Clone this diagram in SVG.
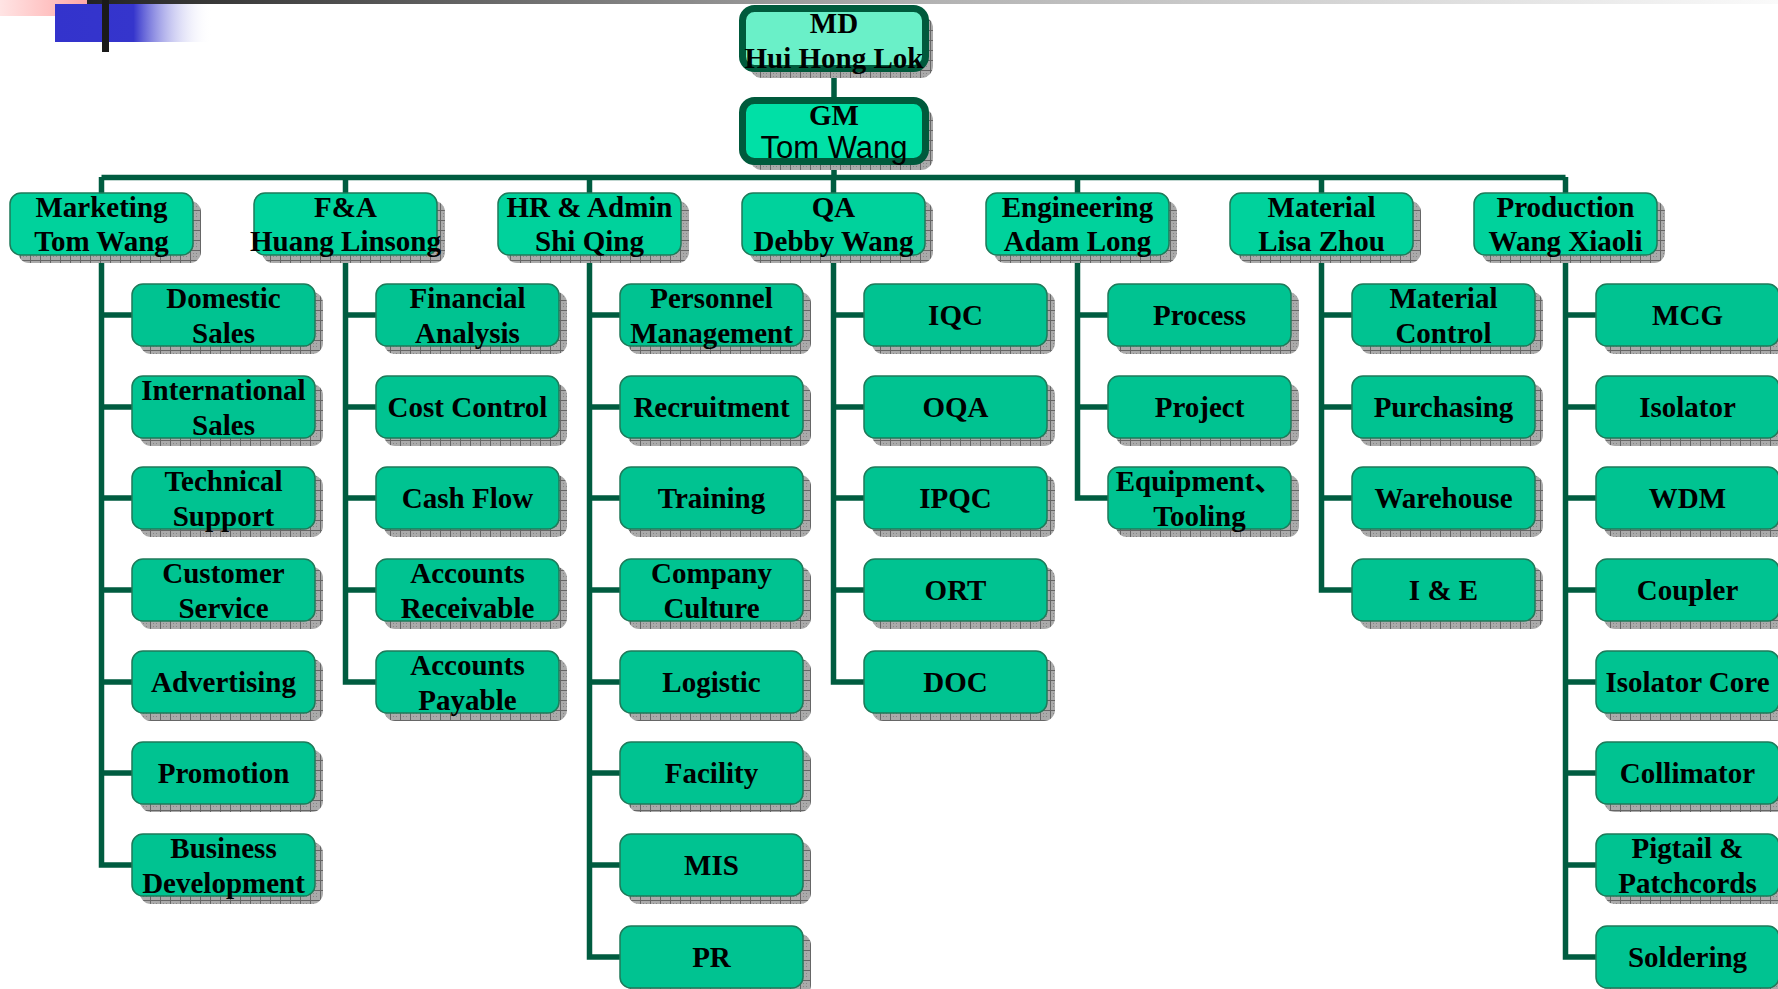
<svg xmlns="http://www.w3.org/2000/svg" width="1778" height="989" viewBox="0 0 1778 989">
<defs>
<linearGradient id="topbar" x1="0" y1="0" x2="1" y2="0">
<stop offset="0" stop-color="#1a1a1a"/>
<stop offset="0.5" stop-color="#b0b0b0"/>
<stop offset="1" stop-color="#fafafa"/>
</linearGradient>
<linearGradient id="pink" x1="0" y1="0" x2="1" y2="0">
<stop offset="0" stop-color="#ffe4e4"/>
<stop offset="1" stop-color="#ffa8a8"/>
</linearGradient>
<linearGradient id="blue" x1="55" y1="0" x2="212" y2="0" gradientUnits="userSpaceOnUse">
<stop offset="0" stop-color="#3333cc"/>
<stop offset="0.5" stop-color="#3535cc"/>
<stop offset="1" stop-color="#ffffff" stop-opacity="0"/>
</linearGradient>
<pattern id="hatch" width="10" height="10" patternUnits="userSpaceOnUse">
<rect width="10" height="10" fill="#aaaaaa"/>
<path d="M0 0.5H10M0.5 0V10" stroke="#666666" stroke-width="1"/>
<path d="M3 3h1v1h-1zM6 6h1v1h-1zM3 6h1v1h-1zM6 3h1v1h-1z" fill="#858585"/>
</pattern>
</defs>
<style>
.sh{fill:url(#hatch)}
.top{fill:#6af0c8;stroke:#005a3c;stroke-width:7}
.gm{fill:#00e0a6;stroke:#005a3c;stroke-width:7}
.dept{fill:#00d29c;stroke:#1f7a5a;stroke-width:1.5}
.child{fill:#00c391;stroke:#1f7a5a;stroke-width:1.5}
text{font-family:"Liberation Serif","Times New Roman","Noto Sans CJK SC",serif;font-weight:bold;font-size:29px;fill:#000;text-anchor:middle}
text.sans{font-family:"Liberation Sans",Arial,sans-serif;font-weight:normal;font-size:31px}
.ln{stroke:#005c40;stroke-width:5.5;fill:none}
</style>
<g id="decor">
<rect x="34" y="0" width="1744" height="4" fill="url(#topbar)"/>
<rect x="0" y="0" width="87" height="16" fill="url(#pink)"/>
<rect x="55" y="4" width="157" height="38" fill="url(#blue)"/>
<rect x="102" y="0" width="7" height="52" fill="#1a1a1a"/>
</g>
<g id="connectors" class="ln">
<path d="M834 72V97M834 165V178M101.5 177.5H1565.5"/>
<path d="M101.5 177V193M345.5 177V193M589.5 177V193M833.5 177V193M1077.5 177V193M1321.5 177V193M1565.5 177V193"/>
<path d="M101.5 255V865H132M101.5 315H132M101.5 407H132M101.5 498H132M101.5 590H132M101.5 682H132M101.5 773H132"/>
<path d="M345.5 255V682H376M345.5 315H376M345.5 407H376M345.5 498H376M345.5 590H376"/>
<path d="M589.5 255V957H620M589.5 315H620M589.5 407H620M589.5 498H620M589.5 590H620M589.5 682H620M589.5 773H620M589.5 865H620"/>
<path d="M833.5 255V682H864M833.5 315H864M833.5 407H864M833.5 498H864M833.5 590H864"/>
<path d="M1077.5 255V498H1108M1077.5 315H1108M1077.5 407H1108"/>
<path d="M1321.5 255V590H1352M1321.5 315H1352M1321.5 407H1352M1321.5 498H1352"/>
<path d="M1565.5 255V957H1596M1565.5 315H1596M1565.5 407H1596M1565.5 498H1596M1565.5 590H1596M1565.5 682H1596M1565.5 773H1596M1565.5 865H1596"/>
</g>
<g id="md"><rect class="sh" x="750" y="16" width="183" height="62" rx="12"/><rect class="top" x="742.5" y="8.5" width="183" height="60" rx="12"/><text x="834" y="33">MD</text><text x="834" y="68">Hui Hong Lok</text></g>
<g id="gm"><rect class="sh" x="750" y="108" width="183" height="62" rx="12"/><rect class="gm" x="742.5" y="100.5" width="183" height="61" rx="12"/><text x="834" y="125">GM</text><text class="sans" x="834" y="158">Tom Wang</text></g>
<g id="d-marketing"><rect class="sh" x="18" y="201" width="183" height="62" rx="11"/><rect class="dept" x="10" y="193" width="183" height="62" rx="11"/><text x="101.5" y="217">Marketing</text><text x="101.5" y="251">Tom Wang</text></g>
<g id="d-fa"><rect class="sh" x="262" y="201" width="183" height="62" rx="11"/><rect class="dept" x="254" y="193" width="183" height="62" rx="11"/><text x="345.5" y="217">F&amp;A</text><text x="345.5" y="251">Huang Linsong</text></g>
<g id="d-hr"><rect class="sh" x="506" y="201" width="183" height="62" rx="11"/><rect class="dept" x="498" y="193" width="183" height="62" rx="11"/><text x="589.5" y="217">HR &amp; Admin</text><text x="589.5" y="251">Shi Qing</text></g>
<g id="d-qa"><rect class="sh" x="750" y="201" width="183" height="62" rx="11"/><rect class="dept" x="742" y="193" width="183" height="62" rx="11"/><text x="833.5" y="217">QA</text><text x="833.5" y="251">Debby Wang</text></g>
<g id="d-eng"><rect class="sh" x="994" y="201" width="183" height="62" rx="11"/><rect class="dept" x="986" y="193" width="183" height="62" rx="11"/><text x="1077.5" y="217">Engineering</text><text x="1077.5" y="251">Adam Long</text></g>
<g id="d-mat"><rect class="sh" x="1238" y="201" width="183" height="62" rx="11"/><rect class="dept" x="1230" y="193" width="183" height="62" rx="11"/><text x="1321.5" y="217">Material</text><text x="1321.5" y="251">Lisa Zhou</text></g>
<g id="d-prod"><rect class="sh" x="1482" y="201" width="183" height="62" rx="11"/><rect class="dept" x="1474" y="193" width="183" height="62" rx="11"/><text x="1565.5" y="217">Production</text><text x="1565.5" y="251">Wang Xiaoli</text></g>

<g id="c-domestic"><rect class="sh" x="140" y="292" width="183" height="62" rx="11"/><rect class="child" x="132" y="284" width="183" height="62" rx="11"/><text x="223.5" y="308">Domestic</text><text x="223.5" y="343">Sales</text></g>
<g id="c-intl"><rect class="sh" x="140" y="384" width="183" height="62" rx="11"/><rect class="child" x="132" y="376" width="183" height="62" rx="11"/><text x="223.5" y="400">International</text><text x="223.5" y="435">Sales</text></g>
<g id="c-tech"><rect class="sh" x="140" y="475" width="183" height="62" rx="11"/><rect class="child" x="132" y="467" width="183" height="62" rx="11"/><text x="223.5" y="491">Technical</text><text x="223.5" y="526">Support</text></g>
<g id="c-cust"><rect class="sh" x="140" y="567" width="183" height="62" rx="11"/><rect class="child" x="132" y="559" width="183" height="62" rx="11"/><text x="223.5" y="583">Customer</text><text x="223.5" y="618">Service</text></g>
<g id="c-adv"><rect class="sh" x="140" y="659" width="183" height="62" rx="11"/><rect class="child" x="132" y="651" width="183" height="62" rx="11"/><text x="223.5" y="692">Advertising</text></g>
<g id="c-promo"><rect class="sh" x="140" y="750" width="183" height="62" rx="11"/><rect class="child" x="132" y="742" width="183" height="62" rx="11"/><text x="223.5" y="783">Promotion</text></g>
<g id="c-bizdev"><rect class="sh" x="140" y="842" width="183" height="62" rx="11"/><rect class="child" x="132" y="834" width="183" height="62" rx="11"/><text x="223.5" y="858">Business</text><text x="223.5" y="893">Development</text></g>

<g id="c-fin"><rect class="sh" x="384" y="292" width="183" height="62" rx="11"/><rect class="child" x="376" y="284" width="183" height="62" rx="11"/><text x="467.5" y="308">Financial</text><text x="467.5" y="343">Analysis</text></g>
<g id="c-cost"><rect class="sh" x="384" y="384" width="183" height="62" rx="11"/><rect class="child" x="376" y="376" width="183" height="62" rx="11"/><text x="467.5" y="417">Cost Control</text></g>
<g id="c-cash"><rect class="sh" x="384" y="475" width="183" height="62" rx="11"/><rect class="child" x="376" y="467" width="183" height="62" rx="11"/><text x="467.5" y="508">Cash Flow</text></g>
<g id="c-ar"><rect class="sh" x="384" y="567" width="183" height="62" rx="11"/><rect class="child" x="376" y="559" width="183" height="62" rx="11"/><text x="467.5" y="583">Accounts</text><text x="467.5" y="618">Receivable</text></g>
<g id="c-ap"><rect class="sh" x="384" y="659" width="183" height="62" rx="11"/><rect class="child" x="376" y="651" width="183" height="62" rx="11"/><text x="467.5" y="675">Accounts</text><text x="467.5" y="710">Payable</text></g>

<g id="c-pers"><rect class="sh" x="628" y="292" width="183" height="62" rx="11"/><rect class="child" x="620" y="284" width="183" height="62" rx="11"/><text x="711.5" y="308">Personnel</text><text x="711.5" y="343">Management</text></g>
<g id="c-recr"><rect class="sh" x="628" y="384" width="183" height="62" rx="11"/><rect class="child" x="620" y="376" width="183" height="62" rx="11"/><text x="711.5" y="417">Recruitment</text></g>
<g id="c-train"><rect class="sh" x="628" y="475" width="183" height="62" rx="11"/><rect class="child" x="620" y="467" width="183" height="62" rx="11"/><text x="711.5" y="508">Training</text></g>
<g id="c-culture"><rect class="sh" x="628" y="567" width="183" height="62" rx="11"/><rect class="child" x="620" y="559" width="183" height="62" rx="11"/><text x="711.5" y="583">Company</text><text x="711.5" y="618">Culture</text></g>
<g id="c-logistic"><rect class="sh" x="628" y="659" width="183" height="62" rx="11"/><rect class="child" x="620" y="651" width="183" height="62" rx="11"/><text x="711.5" y="692">Logistic</text></g>
<g id="c-facility"><rect class="sh" x="628" y="750" width="183" height="62" rx="11"/><rect class="child" x="620" y="742" width="183" height="62" rx="11"/><text x="711.5" y="783">Facility</text></g>
<g id="c-mis"><rect class="sh" x="628" y="842" width="183" height="62" rx="11"/><rect class="child" x="620" y="834" width="183" height="62" rx="11"/><text x="711.5" y="875">MIS</text></g>
<g id="c-pr"><rect class="sh" x="628" y="934" width="183" height="62" rx="11"/><rect class="child" x="620" y="926" width="183" height="62" rx="11"/><text x="711.5" y="967">PR</text></g>

<g id="c-iqc"><rect class="sh" x="872" y="292" width="183" height="62" rx="11"/><rect class="child" x="864" y="284" width="183" height="62" rx="11"/><text x="955.5" y="325">IQC</text></g>
<g id="c-oqa"><rect class="sh" x="872" y="384" width="183" height="62" rx="11"/><rect class="child" x="864" y="376" width="183" height="62" rx="11"/><text x="955.5" y="417">OQA</text></g>
<g id="c-ipqc"><rect class="sh" x="872" y="475" width="183" height="62" rx="11"/><rect class="child" x="864" y="467" width="183" height="62" rx="11"/><text x="955.5" y="508">IPQC</text></g>
<g id="c-ort"><rect class="sh" x="872" y="567" width="183" height="62" rx="11"/><rect class="child" x="864" y="559" width="183" height="62" rx="11"/><text x="955.5" y="600">ORT</text></g>
<g id="c-doc"><rect class="sh" x="872" y="659" width="183" height="62" rx="11"/><rect class="child" x="864" y="651" width="183" height="62" rx="11"/><text x="955.5" y="692">DOC</text></g>

<g id="c-process"><rect class="sh" x="1116" y="292" width="183" height="62" rx="11"/><rect class="child" x="1108" y="284" width="183" height="62" rx="11"/><text x="1199.5" y="325">Process</text></g>
<g id="c-project"><rect class="sh" x="1116" y="384" width="183" height="62" rx="11"/><rect class="child" x="1108" y="376" width="183" height="62" rx="11"/><text x="1199.5" y="417">Project</text></g>
<g id="c-equip"><rect class="sh" x="1116" y="475" width="183" height="62" rx="11"/><rect class="child" x="1108" y="467" width="183" height="62" rx="11"/><text x="1199.5" y="491">Equipment、</text><text x="1199.5" y="526">Tooling</text></g>

<g id="c-matctl"><rect class="sh" x="1360" y="292" width="183" height="62" rx="11"/><rect class="child" x="1352" y="284" width="183" height="62" rx="11"/><text x="1443.5" y="308">Material</text><text x="1443.5" y="343">Control</text></g>
<g id="c-purch"><rect class="sh" x="1360" y="384" width="183" height="62" rx="11"/><rect class="child" x="1352" y="376" width="183" height="62" rx="11"/><text x="1443.5" y="417">Purchasing</text></g>
<g id="c-wh"><rect class="sh" x="1360" y="475" width="183" height="62" rx="11"/><rect class="child" x="1352" y="467" width="183" height="62" rx="11"/><text x="1443.5" y="508">Warehouse</text></g>
<g id="c-ie"><rect class="sh" x="1360" y="567" width="183" height="62" rx="11"/><rect class="child" x="1352" y="559" width="183" height="62" rx="11"/><text x="1443.5" y="600">I &amp; E</text></g>

<g id="c-mcg"><rect class="sh" x="1604" y="292" width="183" height="62" rx="11"/><rect class="child" x="1596" y="284" width="183" height="62" rx="11"/><text x="1687.5" y="325">MCG</text></g>
<g id="c-iso"><rect class="sh" x="1604" y="384" width="183" height="62" rx="11"/><rect class="child" x="1596" y="376" width="183" height="62" rx="11"/><text x="1687.5" y="417">Isolator</text></g>
<g id="c-wdm"><rect class="sh" x="1604" y="475" width="183" height="62" rx="11"/><rect class="child" x="1596" y="467" width="183" height="62" rx="11"/><text x="1687.5" y="508">WDM</text></g>
<g id="c-coupler"><rect class="sh" x="1604" y="567" width="183" height="62" rx="11"/><rect class="child" x="1596" y="559" width="183" height="62" rx="11"/><text x="1687.5" y="600">Coupler</text></g>
<g id="c-isocore"><rect class="sh" x="1604" y="659" width="183" height="62" rx="11"/><rect class="child" x="1596" y="651" width="183" height="62" rx="11"/><text x="1687.5" y="692">Isolator Core</text></g>
<g id="c-collim"><rect class="sh" x="1604" y="750" width="183" height="62" rx="11"/><rect class="child" x="1596" y="742" width="183" height="62" rx="11"/><text x="1687.5" y="783">Collimator</text></g>
<g id="c-pigtail"><rect class="sh" x="1604" y="842" width="183" height="62" rx="11"/><rect class="child" x="1596" y="834" width="183" height="62" rx="11"/><text x="1687.5" y="858">Pigtail &amp;</text><text x="1687.5" y="893">Patchcords</text></g>
<g id="c-solder"><rect class="sh" x="1604" y="934" width="183" height="62" rx="11"/><rect class="child" x="1596" y="926" width="183" height="62" rx="11"/><text x="1687.5" y="967">Soldering</text></g>
</svg>
